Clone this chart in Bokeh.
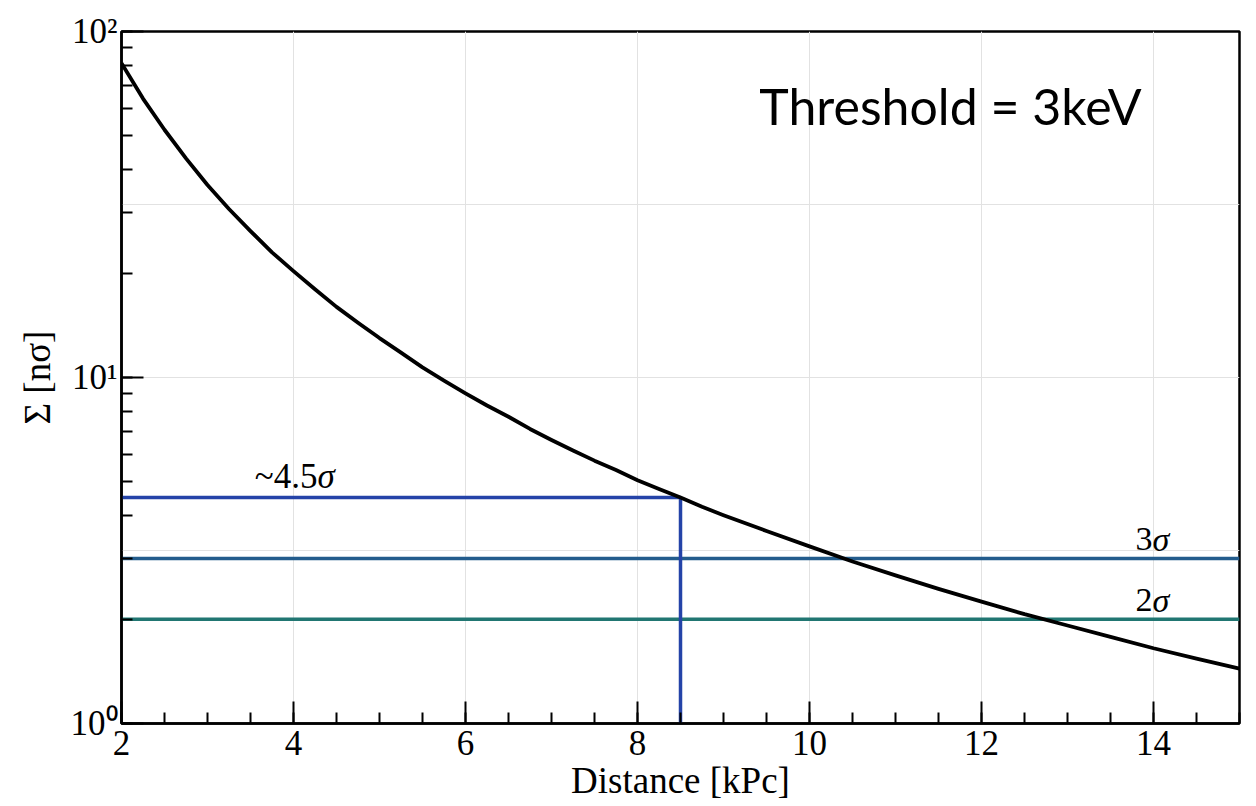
from bokeh.plotting import figure
from bokeh.models import (Label, SingleIntervalTicker, LogTicker, FixedTicker,
                          CustomJSTickFormatter, Range1d)
from bokeh.embed import file_html
from bokeh.resources import INLINE

# ---- data ----
distance_kpc = [2.0, 2.25, 2.5, 2.75, 3.0, 3.25, 3.5, 3.75, 4.0, 4.25, 4.5, 4.75,
                5.0, 5.25, 5.5, 5.75, 6.0, 6.25, 6.5, 6.75, 7.0, 7.25, 7.5, 7.75,
                8.0, 8.25, 8.5, 8.75, 9.0, 9.5, 10.0, 10.5, 11.0, 11.5, 12.0,
                12.5, 13.0, 13.5, 14.0, 14.5, 15.0]
significance = [81.0, 64.0, 52.0, 43.0, 36.0, 30.7, 26.5, 23.0, 20.3, 18.0, 16.0,
                14.4, 13.0, 11.8, 10.7, 9.8, 9.0, 8.3, 7.7, 7.1, 6.6, 6.15, 5.75,
                5.4, 5.05, 4.76, 4.5, 4.23, 4.0, 3.6, 3.25, 2.94, 2.68, 2.45, 2.25,
                2.07, 1.92, 1.78, 1.65, 1.54, 1.44]
gc_distance = 8.5          # galactic-centre distance marker
gc_sigma = 4.5             # ~4.5 sigma at that distance
sigma_levels = [3, 2]
sigma_numbers = ["3", "2"]
x_min, x_max = 2, 15
y_min, y_max = 1, 100
y_grid_ticks = [10 ** 0.5, 10, 10 ** 1.5]
x_grid_ticks = [4, 6, 8, 10, 12, 14]

SERIF = "Liberation Serif"
C_GC = "#2443a8"
C_3S = "#235c8c"
C_2S = "#217672"

p = figure(width=1256, height=806, x_range=Range1d(x_min, x_max),
           y_range=Range1d(y_min, y_max), y_axis_type="log",
           output_backend="svg", toolbar_location=None,
           min_border_left=121, min_border_right=17,
           min_border_top=31, min_border_bottom=83)
p.background_fill_color = "white"
p.border_fill_color = "white"
p.outline_line_color = "black"
p.outline_line_width = 2.5
p.outline_line_alpha = 1

# grids
p.xgrid.ticker = FixedTicker(ticks=x_grid_ticks)
p.ygrid.ticker = FixedTicker(ticks=y_grid_ticks)
for g in (p.xgrid, p.ygrid):
    g.grid_line_color = "#e2e2e2"
    g.grid_line_width = 1

# axes
p.xaxis.ticker = SingleIntervalTicker(interval=2, num_minor_ticks=4)
p.yaxis.ticker = LogTicker(num_minor_ticks=10)
p.yaxis.formatter = CustomJSTickFormatter(code="""
const e = Math.round(Math.log10(tick));
const sup = {'0':'\u2070','1':'\u00b9','2':'\u00b2','3':'\u00b3','-':'\u207b'};
return '10' + String(e).split('').map(c => sup[c]).join('');
""")
for ax in (p.xaxis, p.yaxis):
    ax.axis_line_color = "black"
    ax.axis_line_width = 2.5
    ax.major_tick_line_color = "black"
    ax.minor_tick_line_color = "black"
    ax.major_tick_line_width = 2
    ax.minor_tick_line_width = 2
    ax.major_tick_in = 22
    ax.major_tick_out = 0
    ax.minor_tick_in = 11
    ax.minor_tick_out = 0
    ax.major_label_text_font = SERIF
    ax.major_label_text_font_size = "35px"
    ax.major_label_text_color = "black"
    ax.axis_label_text_font = SERIF
    ax.axis_label_text_font_size = "37px"
    ax.axis_label_text_font_style = "normal"
    ax.axis_label_text_color = "black"
p.xaxis.axis_label = "Distance [kPc]"
p.yaxis.axis_label = "Σ [nσ]"
p.xaxis.major_label_standoff = 7
p.xaxis.axis_label_standoff = 2
p.yaxis.major_label_standoff = 4
p.yaxis.axis_label_standoff = 10

# sigma reference lines
level_colors = [C_3S, C_2S]
for lvl, col in zip(sigma_levels, level_colors):
    p.line(x=[x_min, x_max], y=[lvl, lvl], line_color=col, line_width=3.5)

# ~4.5 sigma marker at galactic centre distance
p.segment(x0=[x_min, gc_distance], y0=[gc_sigma, y_min],
          x1=[gc_distance, gc_distance], y1=[gc_sigma, gc_sigma],
          line_color=C_GC, line_width=3.5)

# significance curve
p.line(distance_kpc, significance, line_color="black", line_width=3.8,
       line_join="round")

# labels (number upright, sigma italic)
def sigma_label(x, y, number, split_offset, size, y_off):
    p.add_layout(Label(x=x, y=y, text=number, text_align="right",
                       text_baseline="middle", x_offset=split_offset,
                       y_offset=y_off, text_font=SERIF, text_font_size=size,
                       text_color="black"))
    p.add_layout(Label(x=x, y=y, text="σ", text_align="left",
                       text_baseline="middle", x_offset=split_offset,
                       y_offset=y_off, text_font=SERIF, text_font_size=size,
                       text_font_style="italic", text_color="black"))

for lvl, num in zip(sigma_levels, sigma_numbers):
    sigma_label(14, lvl, num, -1, "34px", 19)
sigma_label(4, gc_sigma, "~4.5", 24, "35px", 21)

p.add_layout(Label(x=11.64, y=61, text="Threshold = 3keV",
                   text_align="center", text_baseline="alphabetic",
                   text_font="Lato", text_font_size="50px",
                   text_color="black"))

open("out.html", "w").write(file_html(p, INLINE))
